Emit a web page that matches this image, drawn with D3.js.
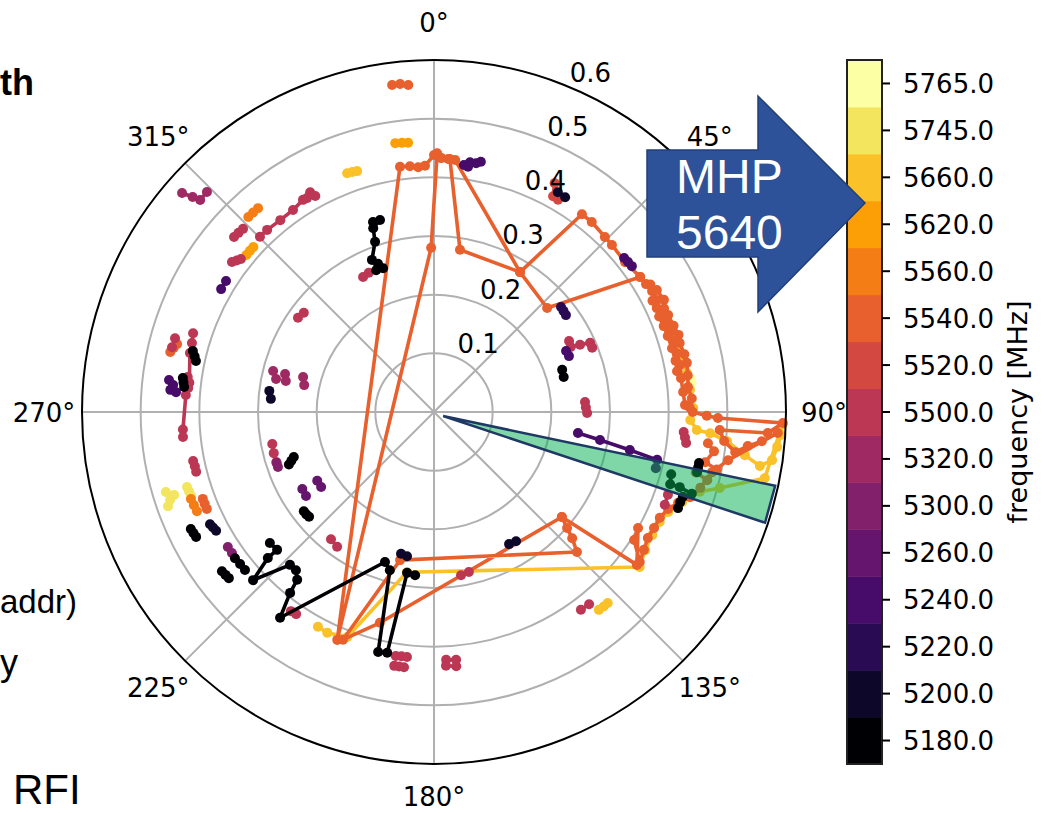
<!DOCTYPE html>
<html>
<head>
<meta charset="utf-8">
<script src="https://cdn.jsdelivr.net/npm/d3@7"></script>
<style>
  html, body { margin: 0; padding: 0; background: #fff; }
  svg { display: block; }
  text { font-family: "DejaVu Sans", sans-serif; }
</style>
</head>
<body>
<svg id="chart" width="1045" height="813"></svg>
<script>
// Frequency channels (MHz), one colour bin each, bottom to top of the colour bar
const frequencies = [5180, 5200, 5220, 5240, 5260, 5300, 5320, 5500, 5520, 5540, 5560, 5620, 5660, 5745, 5765];
const radialTicks = [0.1, 0.2, 0.3, 0.4, 0.5, 0.6];
const angleTicks = [0, 45, 90, 135, 180, 225, 270, 315];

// Tracks per channel: each track is a list of [azimuth in degrees, range]
const ch5180 = [
  [[342.2,0.340],[344.3,0.340],[341.7,0.330],[340.9,0.307],[337.8,0.280],[339.3,0.270],[337.8,0.261],[340.5,0.260]],
  [[284.2,0.424],[283.1,0.419],[282.1,0.415]],
  [[277.7,0.432],[276.7,0.430],[275.7,0.428]],
  [[252.2,0.251],[251.1,0.257],[250.1,0.263]],
  [[232.7,0.279],[231.3,0.279],[230.0,0.278]],
  [[244.3,0.460],[243.3,0.459],[242.3,0.458]],
  [[233.7,0.421],[231.9,0.420],[230.1,0.420]],
  [[233.1,0.452],[232.0,0.451],[231.0,0.450]],
  [[231.4,0.358],[228.7,0.356],[228.7,0.377],[227.1,0.421],[223.3,0.358],[221.1,0.358],[219.2,0.369],[218.5,0.394],[216.8,0.438],[198.1,0.269],[195.6,0.280],[193.1,0.420],[191.0,0.418],[189.5,0.278],[186.6,0.280]],
  [[100.9,0.460],[101.9,0.460],[102.9,0.460]],
  [[104.7,0.418],[107.0,0.421],[107.0,0.438],[107.6,0.461]],
  [[108.8,0.448],[110.1,0.447],[111.5,0.447]],
  [[71.8,0.230],[74.9,0.229]]
];
const ch5200 = [
  [[243.4,0.427],[242.4,0.425],[241.4,0.423]],
  [[193.1,0.248],[190.6,0.250]],
  [[150.4,0.259],[147.6,0.261]],
  [[277.3,0.283],[274.6,0.279]],
  [[29.4,0.430],[31.4,0.429]]
];
const ch5220 = [
  [[50.4,0.281],[52.0,0.280],[53.7,0.279]]
];
const ch5240 = [
  [[6.9,0.424],[8.2,0.430],[9.6,0.430],[10.6,0.434],[7.9,0.422]],
  [[300.0,0.419],[302.2,0.419]],
  [[276.9,0.455],[275.9,0.447],[274.8,0.451],[274.4,0.441]],
  [[98.3,0.248],[99.6,0.287],[101.0,0.340],[102.1,0.389],[104.2,0.390]],
  [[51.0,0.417],[52.3,0.418],[53.6,0.419]],
  [[65.2,0.248],[67.5,0.249]]
];
const ch5260 = [
  [[239.7,0.260],[236.7,0.261]],
  [[239.5,0.231],[236.4,0.231]]
];
const ch5300 = [
  [[236.8,0.420],[235.1,0.420]],
  [[252.0,0.282],[250.6,0.282]]
];
const ch5320 = [
  [[311.0,0.569],[311.7,0.551],[312.2,0.538],[314.1,0.539]],
  [[284.3,0.283],[281.8,0.275]],
  [[284.3,0.262],[281.8,0.258]],
  [[285.0,0.231],[281.7,0.226]]
];
const ch5500 = [
  [[315.2,0.421],[317.5,0.421],[321.3,0.419],[325.1,0.420],[328.3,0.425],[330.6,0.430],[331.2,0.420],[329.3,0.424]],
  [[311.2,0.453],[312.5,0.452],[313.8,0.451]],
  [[306.6,0.429],[307.5,0.424],[308.4,0.420]],
  [[304.7,0.282],[307.3,0.279]],
  [[332.3,0.260],[334.9,0.262]],
  [[288.1,0.432],[285.9,0.429],[283.6,0.428],[276.8,0.420],[273.9,0.424],[266.0,0.429],[264.3,0.430]],
  [[283.9,0.460],[285.9,0.459]],
  [[278.1,0.424],[275.6,0.421]],
  [[258.5,0.419],[257.2,0.418],[255.9,0.418]],
  [[258.8,0.281],[255.6,0.282],[252.4,0.282]],
  [[219.0,0.279],[215.7,0.283]],
  [[215.7,0.418],[214.3,0.417]],
  [[188.9,0.421],[187.6,0.420],[186.3,0.420]],
  [[188.9,0.438],[187.8,0.438],[186.7,0.438]],
  [[177.2,0.423],[174.9,0.424],[175.0,0.435],[177.3,0.433]],
  [[170.6,0.282],[167.7,0.279]],
  [[143.4,0.420],[141.1,0.421]],
  [[86.2,0.258],[88.3,0.259],[90.4,0.261]],
  [[94.6,0.427],[95.8,0.430],[97.0,0.433]],
  [[109.5,0.423],[111.9,0.424]],
  [[62.3,0.260],[64.6,0.258],[65.3,0.274],[66.1,0.291],[67.9,0.291]]
];
const ch5520 = [
  [[27.8,0.441],[28.9,0.420],[30.3,0.419]]
];
const ch5540 = [
  [[56.8,0.420],[51.9,0.414],[46.8,0.416],[44.3,0.417],[39.7,0.421],[36.8,0.421],[31.6,0.280],[9.1,0.280],[3.6,0.432],[1.6,0.433],[0.7,0.441],[359.0,0.280],[203.0,0.422],[352.1,0.422],[354.4,0.421],[356.3,0.418],[357.9,0.420],[0.0,0.438],[1.6,0.433],[3.2,0.432],[4.8,0.431],[31.6,0.280],[47.4,0.262],[56.8,0.420],[58.9,0.422],[61.0,0.425],[63.3,0.425],[66.2,0.423],[68.8,0.424],[71.3,0.425],[73.7,0.426],[76.4,0.426],[79.2,0.427],[82.2,0.425],[85.4,0.426],[88.4,0.428],[90.0,0.441],[90.8,0.465],[91.2,0.484],[91.8,0.595],[93.6,0.570],[93.6,0.488],[95.7,0.497],[97.6,0.518],[96.2,0.538],[95.1,0.561],[93.5,0.587],[99.3,0.508],[102.2,0.485],[105.9,0.472],[108.4,0.460],[110.4,0.444],[112.5,0.432],[115.1,0.425],[117.8,0.424],[120.5,0.423],[123.3,0.428],[126.1,0.434],[122.6,0.405],[119.6,0.400],[127.0,0.433],[129.4,0.282],[131.1,0.301],[132.4,0.319],[134.4,0.341],[192.9,0.259],[201.8,0.418],[194.4,0.371],[129.4,0.282]],
  [[59.5,0.428],[61.3,0.433],[64.0,0.436],[65.8,0.430],[67.5,0.432],[70.2,0.434],[72.5,0.437],[74.3,0.435],[77.0,0.438],[79.0,0.439],[81.8,0.437],[84.4,0.435],[87.0,0.440],[89.0,0.436]],
  [[63.0,0.418],[65.0,0.419],[67.0,0.417],[69.5,0.418],[72.0,0.419],[75.0,0.420],[78.0,0.421],[80.5,0.420]],
  [[96.5,0.470],[98.0,0.482],[100.5,0.470],[101.5,0.492],[104.0,0.480],[103.0,0.458]],
  [[352.7,0.562],[354.1,0.562],[355.5,0.559]],
  [[282.8,0.461],[283.8,0.457],[284.8,0.453]],
  [[249.4,0.421],[248.2,0.421],[246.9,0.421]]
];
const ch5560 = [
  [[316.4,0.459],[317.8,0.459],[319.2,0.459]],
  [[250.3,0.440],[248.8,0.439],[247.3,0.438]]
];
const ch5620 = [
  [[351.8,0.463],[353.2,0.462],[354.5,0.461]],
  [[309.9,0.417],[311.2,0.417],[312.4,0.417]]
];
const ch5660 = [
  [[70.4,0.432],[74.6,0.430],[77.7,0.433],[81.2,0.436],[85.1,0.438],[89.1,0.442],[91.8,0.437],[93.9,0.449],[94.4,0.472],[95.7,0.502],[97.9,0.535],[99.4,0.563],[98.1,0.582],[95.8,0.588],[93.8,0.593],[92.1,0.594],[101.3,0.575],[104.9,0.504],[106.7,0.473],[110.0,0.450],[113.1,0.434],[116.0,0.428],[119.4,0.427],[123.2,0.430],[127.0,0.439],[189.6,0.277],[201.1,0.411],[205.8,0.418],[208.4,0.416]],
  [[340.0,0.433],[341.2,0.432],[342.3,0.431]],
  [[140.2,0.439],[138.9,0.440],[137.7,0.440]]
];
const ch5745 = [
  [[253.4,0.477],[252.3,0.465],[250.5,0.481],[251.6,0.474]],
  [[253.1,0.440],[252.0,0.439],[250.9,0.438]]
];
const ch5765 = [
  [[73.4,0.430],[75.7,0.429]],
  [[82.5,0.441],[83.6,0.442]]
];

// Highlighted sector towards the MHP (azimuth, range)
const wedge = [[114.0,0.017],[102.2,0.595],[108.5,0.595]];

const tracks = {
  5180: ch5180, 5200: ch5200, 5220: ch5220, 5240: ch5240, 5260: ch5260,
  5300: ch5300, 5320: ch5320, 5500: ch5500, 5520: ch5520, 5540: ch5540,
  5560: ch5560, 5620: ch5620, 5660: ch5660, 5745: ch5745, 5765: ch5765
};

const svg = d3.select('#chart');
const cx = 434, cy = 412, R = 352;
const rScale = d3.scaleLinear().domain([0, 0.6]).range([0, R]);
const toRad = d => d * Math.PI / 180;
const colour = d3.scaleOrdinal()
  .domain(frequencies)
  .range(frequencies.map((f, i) => d3.interpolateInferno(i / (frequencies.length - 1))));

// ---- slide text left of the plot
const slideFont = '"Liberation Sans", Arial, sans-serif';
svg.append('text').attr('x', 0).attr('y', 95)
  .style('font-family', slideFont).style('font-weight', 'bold')
  .style('font-size', '36px').text('th');
svg.append('text').attr('x', 0).attr('y', 613)
  .style('font-family', slideFont).style('font-size', '33px').text('addr)');
svg.append('text').attr('x', 0).attr('y', 675)
  .style('font-family', slideFont).style('font-size', '36px').text('y');
svg.append('text').attr('x', 13).attr('y', 804)
  .style('font-family', slideFont).style('font-size', '42px').text('RFI');

// ---- polar axes
const polar = svg.append('g').attr('transform', `translate(${cx},${cy})`);

polar.selectAll('.ring').data(radialTicks.slice(0, -1)).join('circle')
  .attr('class', 'ring')
  .attr('r', d => rScale(d))
  .attr('fill', 'none').attr('stroke', '#b0b0b0').attr('stroke-width', 2);

polar.selectAll('.spoke').data(angleTicks).join('line')
  .attr('class', 'spoke')
  .attr('x1', 0).attr('y1', 0)
  .attr('x2', d => rScale(0.6) * Math.sin(toRad(d)))
  .attr('y2', d => -rScale(0.6) * Math.cos(toRad(d)))
  .attr('stroke', '#b0b0b0').attr('stroke-width', 2);

// ---- tracks, high channels first so the low channels sit on top
const radial = d3.lineRadial().angle(d => toRad(d[0])).radius(d => rScale(d[1]));
frequencies.slice().reverse().forEach(f => {
  const g = polar.append('g').attr('class', 'ch' + f);
  tracks[f].forEach(tr => {
    g.append('path').attr('d', radial(tr))
      .attr('fill', 'none').attr('stroke', colour(f))
      .attr('stroke-width', 3.6).attr('stroke-linejoin', 'round').attr('stroke-linecap', 'round');
    g.append('g').selectAll('circle').data(tr).join('circle')
      .attr('cx', d => rScale(d[1]) * Math.sin(toRad(d[0])))
      .attr('cy', d => -rScale(d[1]) * Math.cos(toRad(d[0])))
      .attr('r', 5).attr('fill', colour(f));
  });
});

// outer spine
polar.append('circle').attr('r', rScale(0.6))
  .attr('fill', 'none').attr('stroke', '#000').attr('stroke-width', 2);

// highlighted sector
polar.append('path').attr('d', radial(wedge) + 'Z')
  .attr('fill', '#00b050').attr('fill-opacity', 0.5)
  .attr('stroke', '#1f3864').attr('stroke-width', 2.5).attr('stroke-linejoin', 'miter');

// angle labels (the bottom one nudged up to stay inside the frame)
polar.selectAll('.alabel').data(angleTicks).join('text')
  .attr('class', 'alabel')
  .attr('x', d => 390 * Math.sin(toRad(d)))
  .attr('y', d => Math.min(-390 * Math.cos(toRad(d)) + 9.5, 394))
  .attr('text-anchor', 'middle')
  .style('font-size', '26px')
  .text(d => d + '°');

// radial labels along 22.5°
polar.selectAll('.rlabel').data(radialTicks).join('text')
  .attr('class', 'rlabel')
  .attr('x', d => rScale(d) * Math.sin(toRad(22.5)) + 1)
  .attr('y', d => -rScale(d) * Math.cos(toRad(22.5)) - 5)
  .style('font-size', '26px')
  .text(d => d.toFixed(1));

// ---- colour bar
const cbX = 847, cbW = 35;
const band = d3.scaleBand().domain(frequencies.slice().reverse()).range([60, 764]).padding(0);
const cb = svg.append('g');
cb.selectAll('rect.bin').data(frequencies).join('rect')
  .attr('class', 'bin')
  .attr('x', cbX).attr('y', d => band(d))
  .attr('width', cbW).attr('height', band.bandwidth() + 0.5)
  .attr('fill', d => colour(d));
cb.append('rect').attr('x', cbX).attr('y', 60).attr('width', cbW).attr('height', 704)
  .attr('fill', 'none').attr('stroke', '#222').attr('stroke-width', 2);
cb.selectAll('line.tick').data(frequencies).join('line')
  .attr('class', 'tick')
  .attr('x1', cbX + cbW).attr('x2', cbX + cbW + 8)
  .attr('y1', d => band(d) + band.bandwidth() / 2)
  .attr('y2', d => band(d) + band.bandwidth() / 2)
  .attr('stroke', '#000').attr('stroke-width', 2);
cb.selectAll('text.tl').data(frequencies).join('text')
  .attr('class', 'tl')
  .attr('x', 903)
  .attr('y', d => band(d) + band.bandwidth() / 2 + 9.5)
  .style('font-size', '26px')
  .text(d => d.toFixed(1));
svg.append('text')
  .attr('transform', 'translate(1027,412) rotate(-90)')
  .attr('text-anchor', 'middle')
  .style('font-size', '27px')
  .text('frequency [MHz]');

// ---- MHP arrow callout
const arrow = [[647,150],[758,150],[758,96],[865,203],[758,312],[758,257],[647,257]];
svg.append('polygon')
  .attr('points', arrow.map(p => p.join(',')).join(' '))
  .attr('fill', '#2e5299').attr('stroke', '#203f7a').attr('stroke-width', 1.5);
svg.append('text').attr('x', 676).attr('y', 193)
  .style('font-family', slideFont).style('font-size', '48px')
  .attr('fill', '#fff').text('MHP');
svg.append('text').attr('x', 676).attr('y', 249)
  .style('font-family', slideFont).style('font-size', '48px')
  .attr('fill', '#fff').text('5640');
</script>
</body>
</html>
